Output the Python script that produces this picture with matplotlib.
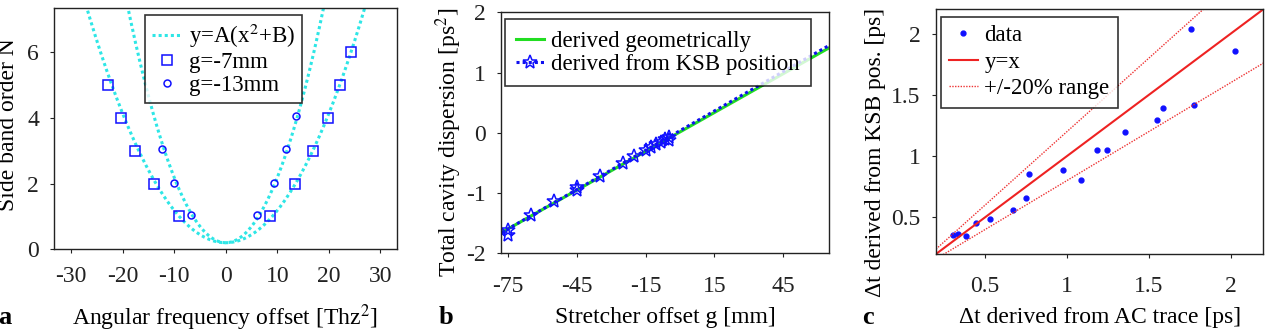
import numpy as np
import matplotlib
matplotlib.use("Agg")
import matplotlib.pyplot as plt

plt.rcParams['font.family'] = ['Liberation Serif', 'DejaVu Serif']
plt.rcParams['mathtext.fontset'] = 'stix'
plt.rcParams['axes.unicode_minus'] = False

# ---------------- data ----------------
# panel a
sq_x = [-22.9, -20.3, -17.6, -13.9, -9.0, 8.5, 13.5, 16.9, 19.8, 22.2, 24.3]
sq_y = [5, 4, 3, 2, 1, 1, 2, 3, 4, 5, 6]
ci_x = [-12.4, -10.0, -6.8, 6.1, 9.3, 11.7, 13.7]
ci_y = [3.05, 2.03, 1.03, 1.03, 2.03, 3.05, 4.04]
fit_A = [0.0098, 0.0198]
fit_B = [20.4, 10.1]

# panel b
geo_x = [-78, 65]
geo_y = [-1.66, 1.41]
ksb_fit_x = [-78, 65]
ksb_fit_y = [-1.66, 1.45]
ksb_x = [-75, -75, -65, -55, -45, -45, -35, -25, -20, -15, -12.5, -10.5, -8.5, -6.5, -5, -5]
ksb_y = [-1.61, -1.70, -1.37, -1.13, -0.90, -0.95, -0.72, -0.50, -0.39, -0.28,
         -0.23, -0.19, -0.15, -0.11, -0.07, -0.12]

# panel c
ac_x = [0.306, 0.337, 0.384, 0.445, 0.533, 0.671, 0.748, 0.768, 0.977, 1.089,
        1.184, 1.243, 1.355, 1.551, 1.588, 1.758, 1.777, 2.028]
ksb_dt = [0.353, 0.360, 0.351, 0.454, 0.485, 0.556, 0.656, 0.850, 0.887, 0.803,
          1.052, 1.052, 1.200, 1.292, 1.392, 2.040, 1.415, 1.861]
range_ends = [0.2, 2.2]
range_factors = [1.0, 1.2, 0.8]

FS = 17
LFS = 16.5
W, H = 1266, 333
fig = plt.figure(figsize=(W / 100, H / 100), dpi=100)

def px_axes(l, t, r, b):
    return fig.add_axes([l / W, 1 - b / H, (r - l) / W, (b - t) / H])

def style(ax, xpad):
    for s in ax.spines.values():
        s.set_linewidth(1.0)
        s.set_color('#222222')
    ax.tick_params(direction='out', length=3, width=0.8, labelsize=FS,
                   colors='#222222')
    ax.tick_params(axis='x', pad=xpad)
    ax.tick_params(axis='y', pad=8)

def legend(ax, anchor, hl, ls, bp):
    leg = ax.legend(loc='upper left', bbox_to_anchor=anchor, borderaxespad=0,
                    fontsize=LFS, frameon=True, fancybox=False, handlelength=hl,
                    labelspacing=ls, borderpad=bp, handletextpad=0.3)
    leg.get_frame().set_edgecolor('black')
    leg.get_frame().set_linewidth(1.2)
    return leg

# ---------- panel a ----------
ax = px_axes(54.3, 8.3, 396.7, 249.3)
style(ax, 9)
xx = np.linspace(-34, 34, 600)
cyan = '#2ee6e6'
for i, (A, B) in enumerate(zip(fit_A, fit_B)):
    ax.plot(xx, A * (xx ** 2 + B), linestyle=(0, (1, 1)), color=cyan, lw=2.2,
            label='y=A(x$^2$+B)' if i == 0 else None)
ax.plot(sq_x, sq_y, 's', mfc='none', mec='#1010ff', mew=1.1, ms=6.5, label='g=-7mm')
ax.plot(ci_x, ci_y, 'o', mfc='none', mec='#1010ff', mew=1.1, ms=5, label='g=-13mm')
ax.set_xlim(-33.3, 33.2)
ax.set_ylim(0, 7.33)
ax.set_xticks([-30, -20, -10, 0, 10, 20, 30])
ax.set_yticks([0, 2, 4, 6])
ax.set_ylabel('Side band order N', fontsize=FS, va='center')
ax.yaxis.set_label_coords(-0.134, 0.516)
legend(ax, (0.265, 0.972), 1.3, 0.08, 0.3)

# ---------- panel b ----------
ax = px_axes(500.7, 12.3, 829.3, 253.3)
style(ax, 13)
ax.plot(geo_x, geo_y, '-', color='#22dd22', lw=2.2, label='derived geometrically')
ax.plot(ksb_fit_x, ksb_fit_y, linestyle=(0, (1, 1)), color='#1010ee', lw=2.2)
ax.plot(ksb_x, ksb_y, linestyle='none', marker='*', mfc='none', mec='#1010ff',
        mew=1.1, ms=10)
ax.plot([], [], linestyle=(0, (1, 1)), color='#1010ee', lw=2.2, marker='*',
        mfc='none', mec='#1010ff', mew=1.1, ms=10, label='derived from KSB position')
ax.set_xlim(-78.2, 65.1)
ax.set_ylim(-2, 2)
ax.set_xticks([-75, -45, -15, 15, 45])
ax.set_yticks([-2, -1, 0, 1, 2])
ax.set_ylabel('Total cavity dispersion [ps$^2$]', fontsize=FS, va='center')
ax.yaxis.set_label_coords(-0.157, 0.462)
legend(ax, (0.013, 0.972), 1.2, 0.1, 0.5)

# ---------- panel c ----------
ax = px_axes(936, 9.3, 1263.3, 254)
style(ax, 13)
ax.plot(ac_x, ksb_dt, '.', color='#1010ff', ms=7, label='data')
ax.plot(range_ends, [range_factors[0] * v for v in range_ends], '-', color='#ee2222',
        lw=1.5, label='y=x')
ax.plot(range_ends, [range_factors[1] * v for v in range_ends], linestyle=(0, (1, 1)),
        color='#ee3333', lw=1.0, label='+/-20% range')
ax.plot(range_ends, [range_factors[2] * v for v in range_ends], linestyle=(0, (1, 1)),
        color='#ee3333', lw=1.0)
ax.set_xlim(0.2, 2.2)
ax.set_ylim(0.2, 2.2)
ax.set_xticks([0.5, 1, 1.5, 2])
ax.set_xticklabels(['0.5', '1', '1.5', '2'])
ax.set_yticks([0.5, 1, 1.5, 2])
ax.set_yticklabels(['0.5', '1', '1.5', '2'])
ax.set_ylabel('Δt derived from KSB pos. [ps]', fontsize=FS, va='center')
ax.yaxis.set_label_coords(-0.186, 0.417)
legend(ax, (0.015, 0.969), 1.25, 0.25, 0.35)

# ---------- x labels and panel letters ----------
ylab = 1 - 318 / H
fig.text(225 / W, ylab, 'Angular frequency offset [Thz$^2$]', fontsize=FS,
         ha='center', va='center')
fig.text(665 / W, ylab, 'Stretcher offset g [mm]', fontsize=FS, ha='center', va='center')
fig.text(1100 / W, ylab, 'Δt derived from AC trace [ps]', fontsize=FS,
         ha='center', va='center')
for x, s in [(5, 'a'), (446, 'b'), (868, 'c')]:
    fig.text(x / W, ylab, s, fontsize=FS + 2, fontweight='bold', ha='center', va='center')

fig.savefig('out.png', dpi=100)
